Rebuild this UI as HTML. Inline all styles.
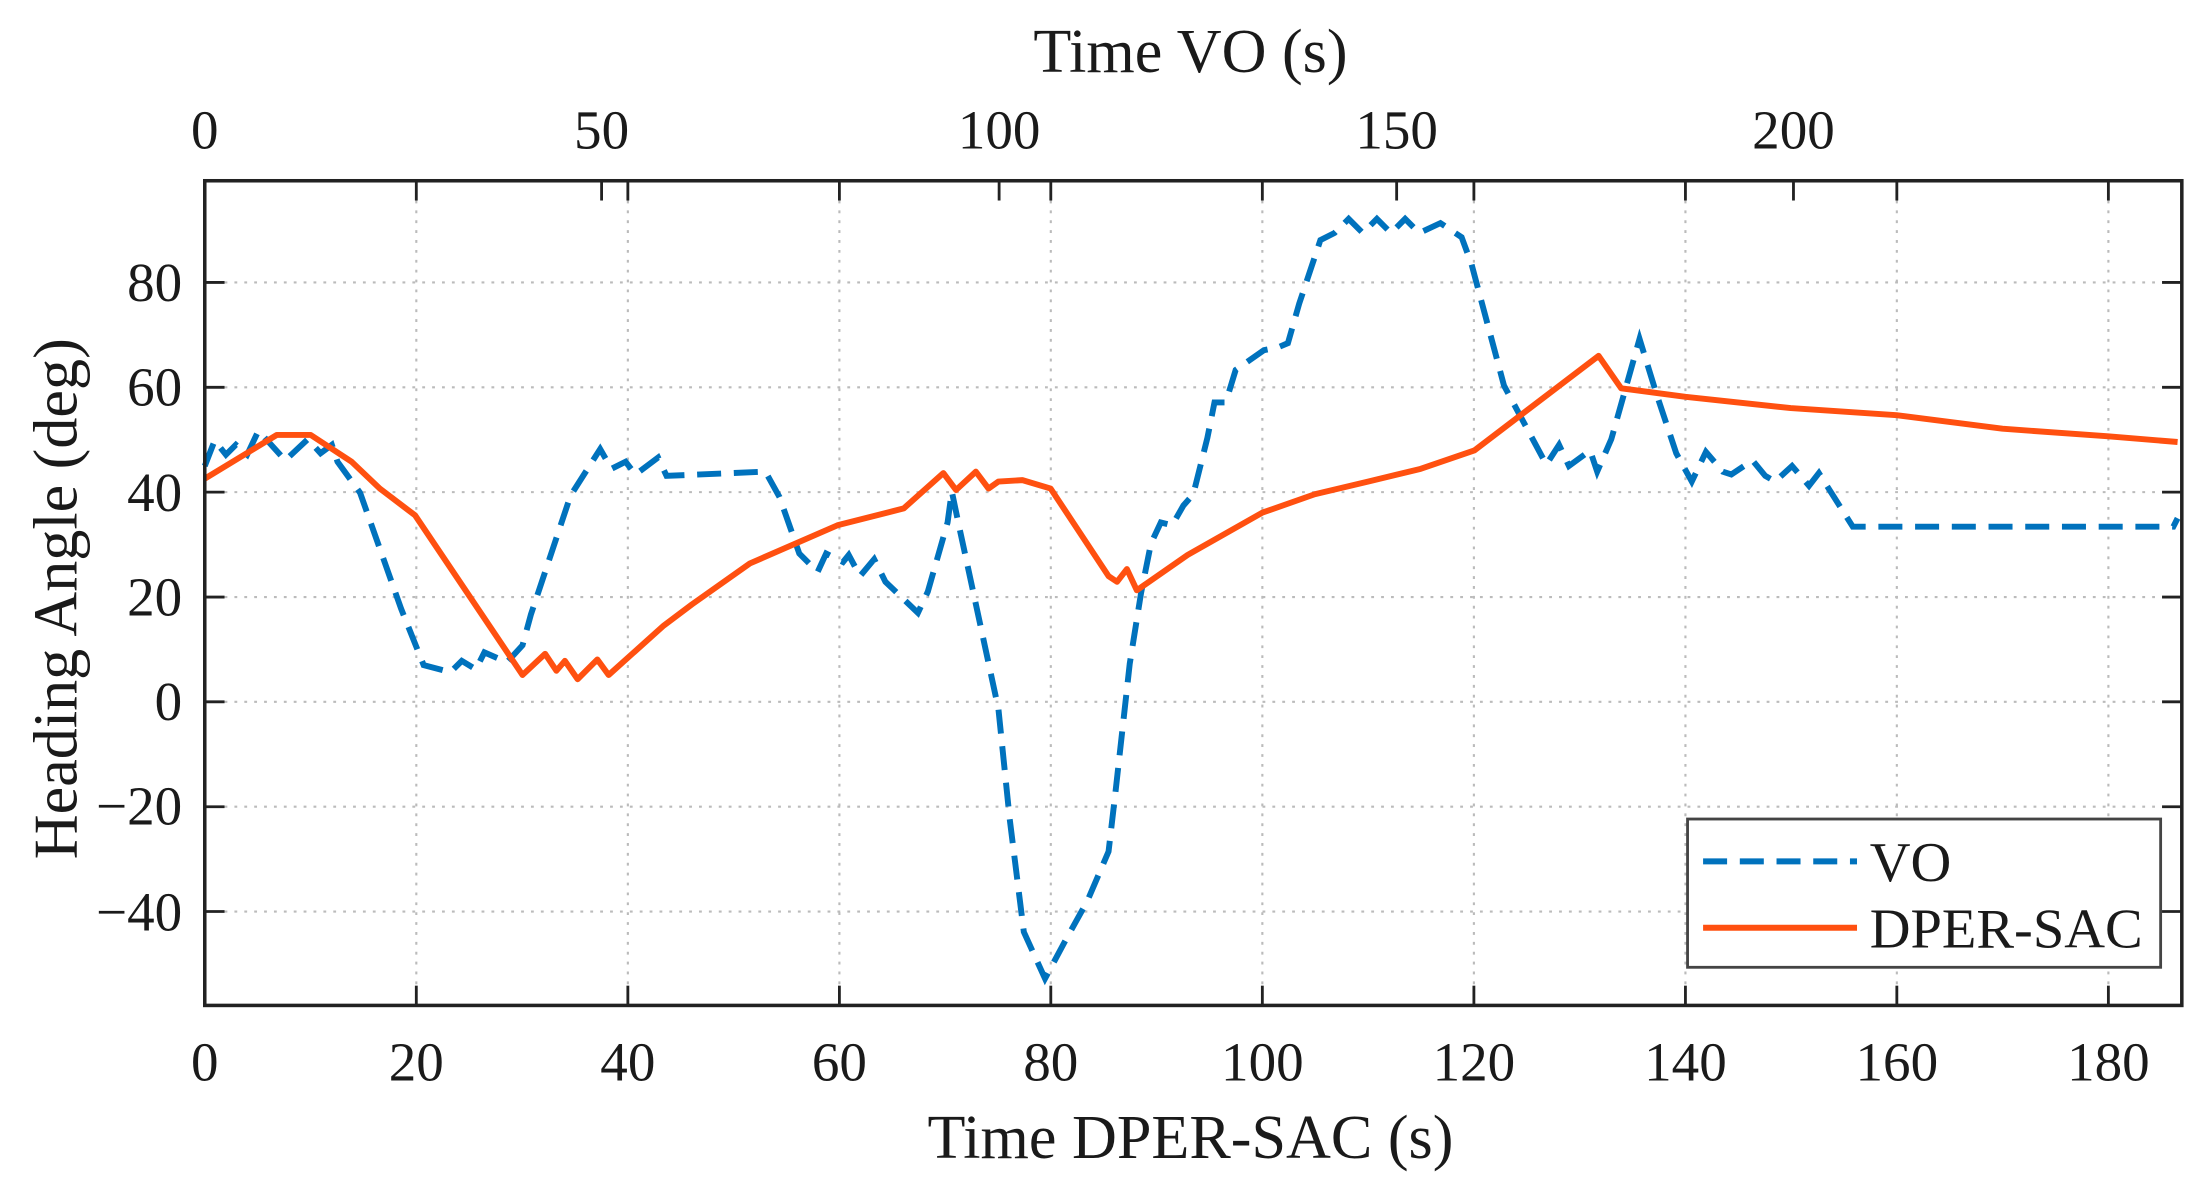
<!DOCTYPE html>
<html><head><meta charset="utf-8"><style>html,body{margin:0;padding:0;background:#fff}svg{display:block}text{font-family:"Liberation Serif",serif;fill:#1a1a1a}</style></head><body>
<svg width="2203" height="1189" viewBox="0 0 1560 842" preserveAspectRatio="none" xmlns="http://www.w3.org/2000/svg">
<g stroke="#bbb" stroke-width="1.5" stroke-dasharray="2,5">
<line x1="294.8" y1="128" x2="294.8" y2="712"/><line x1="444.6" y1="128" x2="444.6" y2="712"/><line x1="594.4" y1="128" x2="594.4" y2="712"/><line x1="744.1" y1="128" x2="744.1" y2="712"/><line x1="893.9" y1="128" x2="893.9" y2="712"/><line x1="1043.7" y1="128" x2="1043.7" y2="712"/><line x1="1193.5" y1="128" x2="1193.5" y2="712"/><line x1="1343.2" y1="128" x2="1343.2" y2="712"/><line x1="1493" y1="128" x2="1493" y2="712"/>
<line x1="145" y1="200" x2="1545" y2="200"/><line x1="145" y1="274.3" x2="1545" y2="274.3"/><line x1="145" y1="348.5" x2="1545" y2="348.5"/><line x1="145" y1="422.8" x2="1545" y2="422.8"/><line x1="145" y1="497" x2="1545" y2="497"/><line x1="145" y1="571.3" x2="1545" y2="571.3"/><line x1="145" y1="645.5" x2="1545" y2="645.5"/>
</g>
<polyline fill="none" stroke="#0072BD" stroke-width="4.2" stroke-dasharray="17,9" points="145,330 152,312 160,322 167,315 175,322 183,305 202,326 218,311 227,321 235,315 239,327 255,349 284,431 300,471 319,476 327,468 337,474 343,462 359,469 370,457 376,435 404,351 425,318 433,332 443,327 450,336 466,324 472,337 542,334 552,352 566,392 579,405 585,392 597,398 601,393 609,408 619,396 627,412 650,434 657,419 671,370 674,348 679,372 707,502 715,580 725,660 740,693 755,665 770,638 785,603 790,560 800,470 808,420 815,385 822,370 830,372 838,358 845,350 855,310 860,285 868,285 875,262 885,255 895,248 905,246 912,243 920,215 935,170 945,165 955,155 965,165 975,155 985,165 995,155 1005,165 1020,158 1035,168 1042,187 1065,273 1095,329 1104,315 1111,330 1126,319 1131,334 1141,311 1161,240 1173,279 1187,321 1198,341 1208,320 1220,334 1226,336 1241,326 1250,337 1257,341 1269,330 1281,344 1288,335 1312,373 1539,373 1542,367"/>
<polyline fill="none" stroke="#FF5010" stroke-width="4.2" stroke-linejoin="round" points="145,339 196,308 220,308 249,327 269,346 294,365 370,478 386,463 394,475 400,468 409,481 423,467 431,478 470,443 490,428 531,399 593,372 640,360 668,335 677,347 691,334 700,346 707,341 724,340 744,346 785,408 791,412 798,403 805,418 841,393 894,363 931,350 969,341 1006,332 1044,319 1132,252 1148,275 1193.5,281 1268,289 1343,294 1418,303.6 1493,309 1542,313"/>
<rect x="145" y="128" width="1400" height="584" fill="none" stroke="#222" stroke-width="2.5"/>
<g stroke="#222" stroke-width="2">
<line x1="294.8" y1="712" x2="294.8" y2="698"/><line x1="444.6" y1="712" x2="444.6" y2="698"/><line x1="594.4" y1="712" x2="594.4" y2="698"/><line x1="744.1" y1="712" x2="744.1" y2="698"/><line x1="893.9" y1="712" x2="893.9" y2="698"/><line x1="1043.7" y1="712" x2="1043.7" y2="698"/><line x1="1193.5" y1="712" x2="1193.5" y2="698"/><line x1="1343.2" y1="712" x2="1343.2" y2="698"/><line x1="1493" y1="712" x2="1493" y2="698"/>
<line x1="294.8" y1="128" x2="294.8" y2="142"/><line x1="444.6" y1="128" x2="444.6" y2="142"/><line x1="594.4" y1="128" x2="594.4" y2="142"/><line x1="744.1" y1="128" x2="744.1" y2="142"/><line x1="893.9" y1="128" x2="893.9" y2="142"/><line x1="1043.7" y1="128" x2="1043.7" y2="142"/><line x1="1193.5" y1="128" x2="1193.5" y2="142"/><line x1="1343.2" y1="128" x2="1343.2" y2="142"/><line x1="1493" y1="128" x2="1493" y2="142"/>
<line x1="426" y1="128" x2="426" y2="142"/><line x1="707.5" y1="128" x2="707.5" y2="142"/><line x1="989" y1="128" x2="989" y2="142"/><line x1="1270" y1="128" x2="1270" y2="142"/>
<line x1="145" y1="200" x2="159" y2="200"/><line x1="145" y1="274.3" x2="159" y2="274.3"/><line x1="145" y1="348.5" x2="159" y2="348.5"/><line x1="145" y1="422.8" x2="159" y2="422.8"/><line x1="145" y1="497" x2="159" y2="497"/><line x1="145" y1="571.3" x2="159" y2="571.3"/><line x1="145" y1="645.5" x2="159" y2="645.5"/>
<line x1="1545" y1="200" x2="1531" y2="200"/><line x1="1545" y1="274.3" x2="1531" y2="274.3"/><line x1="1545" y1="348.5" x2="1531" y2="348.5"/><line x1="1545" y1="422.8" x2="1531" y2="422.8"/><line x1="1545" y1="497" x2="1531" y2="497"/><line x1="1545" y1="571.3" x2="1531" y2="571.3"/><line x1="1545" y1="645.5" x2="1531" y2="645.5"/>
</g>
<g font-size="39" text-anchor="middle">
<text x="145" y="765">0</text><text x="294.8" y="765">20</text><text x="444.6" y="765">40</text><text x="594.4" y="765">60</text><text x="744.1" y="765">80</text><text x="893.9" y="765">100</text><text x="1043.7" y="765">120</text><text x="1193.5" y="765">140</text><text x="1343.2" y="765">160</text><text x="1493" y="765">180</text>
<text x="145" y="105">0</text><text x="426" y="105">50</text><text x="707.5" y="105">100</text><text x="989" y="105">150</text><text x="1270" y="105">200</text>
<text x="843" y="820" font-size="44">Time DPER-SAC (s)</text>
<text x="843" y="51" font-size="44">Time VO (s)</text>
</g>
<g font-size="39" text-anchor="end">
<text x="129" y="213">80</text><text x="129" y="287">60</text><text x="129" y="362">40</text><text x="129" y="436">20</text><text x="129" y="510">0</text><text x="129" y="584">−20</text><text x="129" y="659">−40</text>
</g>
<text transform="translate(54,424) rotate(-90)" font-size="44" text-anchor="middle">Heading Angle (deg)</text>
<rect x="1195" y="580" width="335" height="105" fill="#fff" stroke="#444" stroke-width="2"/>
<line x1="1206" y1="610" x2="1315" y2="610" stroke="#0072BD" stroke-width="4.2" stroke-dasharray="17,9"/>
<line x1="1206" y1="657" x2="1315" y2="657" stroke="#FF5010" stroke-width="4.2"/>
<text x="1324" y="624" font-size="40">VO</text>
<text x="1324" y="671" font-size="40">DPER-SAC</text>
</svg>
</body></html>
